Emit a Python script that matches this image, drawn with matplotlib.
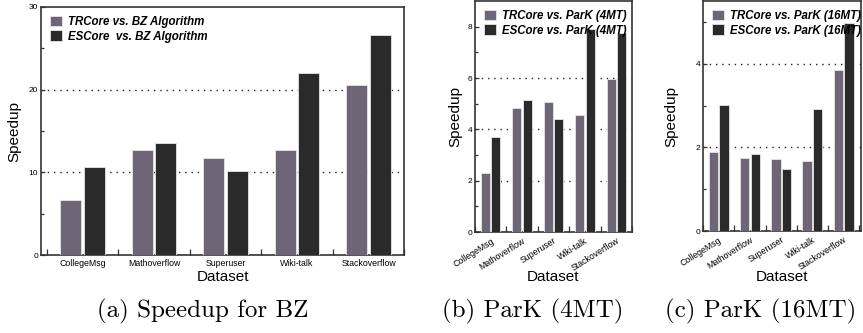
import numpy as np
import matplotlib.pyplot as plt
from matplotlib.ticker import FixedLocator
from matplotlib.patches import FancyBboxPatch, Rectangle
from matplotlib.legend_handler import HandlerPatch

plt.rcParams['font.family'] = ['Liberation Sans', 'DejaVu Sans']

datasets = ["CollegeMsg", "Mathoverflow", "Superuser", "Wiki-talk", "Stackoverflow"]

# (a) speedup over BZ
tr_bz = [6.65, 12.75, 11.7, 12.65, 20.6]
es_bz = [10.7, 13.6, 10.2, 22.0, 26.6]
# (b) speedup over ParK 4MT
tr_4mt = [2.3, 4.85, 5.05, 4.55, 5.95]
es_4mt = [3.7, 5.15, 4.4, 7.9, 7.75]
# (c) speedup over ParK 16MT
tr_16mt = [1.88, 1.74, 1.72, 1.68, 3.86]
es_16mt = [3.02, 1.85, 1.49, 2.93, 4.97]

c_tr = '#6e6676'
c_es = '#2a2a2a'


def rounded_square(legend, orig_handle, xdescent, ydescent, width, height, fontsize):
    return FancyBboxPatch((-xdescent + 1, -ydescent + 0.5), width - 2, height - 1,
                          boxstyle='round,pad=0,rounding_size=1.5')


fig = plt.figure(figsize=(8.63, 3.33), dpi=100)

panels = [
    dict(rect=[0.0475, 0.234, 0.421, 0.745], tr=tr_bz, es=es_bz, ylim=30, major=[0, 10, 20, 30],
         minor=[5, 15, 25], grid=[10, 20], rot=0, lp=5,
         leg=["TRCore vs. BZ Algorithm", "ESCore  vs. BZ Algorithm"], xlim=(-0.58, 4.5), w=0.29),
    dict(rect=[0.5504, 0.303, 0.182, 0.694], tr=tr_4mt, es=es_4mt, ylim=9.0, major=[0, 2, 4, 6, 8],
         minor=[1, 3, 5, 7], grid=[2, 4, 6], rot=32, lp=4,
         leg=["TRCore vs. ParK (4MT)", "ESCore vs. ParK (4MT)"], xlim=(-0.5, 4.5), w=0.29),
    dict(rect=[0.8146, 0.306, 0.183, 0.691], tr=tr_16mt, es=es_16mt, ylim=5.5, major=[0, 2, 4],
         minor=[1, 3, 5], grid=[2, 4], rot=32, lp=12,
         leg=["TRCore vs. ParK (16MT)", "ESCore vs. ParK (16MT)"], xlim=(-0.5, 4.55), w=0.3),
]

x = np.arange(len(datasets))
for p in panels:
    ax = fig.add_axes(p['rect'])
    off = p['w'] / 2 + 0.02
    ax.bar(x - off, p['tr'], p['w'], color=c_tr, edgecolor='#e6e6e6', linewidth=0.6,
           label=p['leg'][0], zorder=3)
    ax.bar(x + off, p['es'], p['w'], color=c_es, edgecolor='#e6e6e6', linewidth=0.6,
           label=p['leg'][1], zorder=3)
    for g in p['grid']:
        ax.axhline(g, color='#222222', lw=1.0, ls=(0, (1, 3.5)), zorder=1)
    ax.set_xlim(*p['xlim'])
    ax.set_ylim(0, p['ylim'])
    ax.yaxis.set_major_locator(FixedLocator(p['major']))
    ax.yaxis.set_minor_locator(FixedLocator(p['minor']))
    ax.tick_params(axis='y', which='both', direction='in', labelsize=6, pad=2, width=0.9,
                   color='#333333')
    ax.tick_params(axis='y', which='major', length=3)
    ax.tick_params(axis='y', which='minor', length=2)
    ax.set_xticks(x)
    ax.xaxis.set_minor_locator(FixedLocator(np.arange(-0.5, len(datasets), 1.0)))
    ax.tick_params(axis='x', which='major', length=0, labelsize=6.3, pad=3)
    ax.tick_params(axis='x', which='minor', direction='in', length=4, width=0.9, color='#333333')
    if p['rot']:
        ax.set_xticklabels(datasets, rotation=p['rot'], ha='right', rotation_mode='anchor')
    else:
        ax.set_xticklabels(datasets)
    for s in ax.spines.values():
        s.set_linewidth(1.2)
        s.set_color('#333333')
    ax.set_ylabel('Speedup', fontsize=11, labelpad=p['lp'])
    ax.legend(loc='upper left', frameon=False, handlelength=1.05, handleheight=1.05,
              handletextpad=0.5, borderaxespad=0.35, labelspacing=0.2,
              handler_map={Rectangle: HandlerPatch(patch_func=rounded_square)},
              prop=dict(family='Liberation Sans', weight='bold', style='italic', size=8.3))

fig.text(0.258, 0.168, 'Dataset', ha='center', va='center', fontsize=11)
fig.text(0.641, 0.168, 'Dataset', ha='center', va='center', fontsize=11)
fig.text(0.906, 0.168, 'Dataset', ha='center', va='center', fontsize=11)

cap = dict(ha='center', va='center', fontsize=18, family=['cmr10', 'DejaVu Serif'])
fig.text(0.235, 0.066, '(a) Speedup for BZ', **cap)
fig.text(0.617, 0.066, '(b) ParK (4MT)', **cap)
fig.text(0.881, 0.066, '(c) ParK (16MT)', **cap)

fig.savefig('out.png', dpi=100)
